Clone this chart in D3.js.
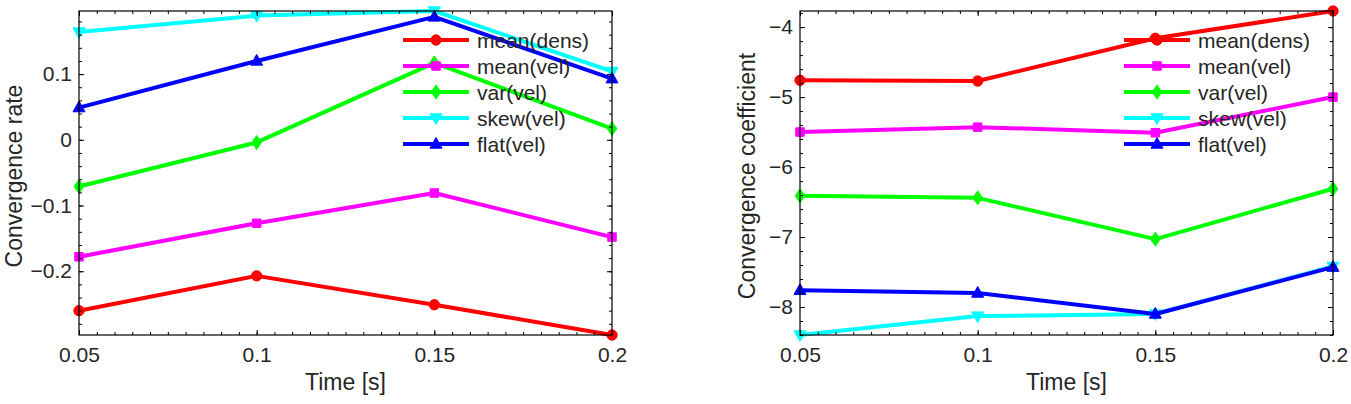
<!DOCTYPE html>
<html>
<head>
<meta charset="utf-8">
<script src="https://cdn.jsdelivr.net/npm/d3@7"></script>
<style>
	body { margin: 0; background: #fff; }
	svg { display: block; }
</style>
</head>
<body>
<script>
var times = [0.05, 0.1, 0.15, 0.2];
var seriesNames = ["mean(dens)", "mean(vel)", "var(vel)", "skew(vel)", "flat(vel)"];
var seriesColors = ["#ff0000", "#ff00ff", "#00ff00", "#00ffff", "#0000ff"];
var seriesMarkers = ["circle", "square", "diamond", "triangleDown", "triangleUp"];

// left panel: convergence rate
var rateDens = [-0.260, -0.207, -0.251, -0.297];
var rateVel = [-0.178, -0.127, -0.081, -0.148];
var rateVar = [-0.071, -0.004, 0.117, 0.017];
var rateSkew = [0.164, 0.189, 0.196, 0.104];
var rateFlat = [0.049, 0.120, 0.187, 0.093];

// right panel: convergence coefficient
var coefDens = [-4.76, -4.77, -4.16, -3.77];
var coefVel = [-5.50, -5.43, -5.51, -5.00];
var coefVar = [-6.41, -6.44, -7.03, -6.31];
var coefSkew = [-8.40, -8.13, -8.10, -7.42];
var coefFlat = [-7.76, -7.80, -8.10, -7.43];

var xTicks = [0.05, 0.1, 0.15, 0.2];
var xTickLabels = ["0.05", "0.1", "0.15", "0.2"];
var rateTicks = [-0.2, -0.1, 0, 0.1];
var rateTickLabels = ["\u22120.2", "\u22120.1", "0", "0.1"];
var coefTicks = [-8, -7, -6, -5, -4];
var coefTickLabels = ["\u22128", "\u22127", "\u22126", "\u22125", "\u22124"];

var FONT = "'Liberation Sans', Arial, Helvetica, sans-serif";
var TEXT_COLOR = "#262626";

function Panel(svg, left, yLabel, series, yTicks, yTickLabels, yMinorStep) {
	this.svg = svg;
	this.left = left;
	this.top = 11;
	this.width = 533;
	this.height = 324;
	this.yLabel = yLabel;
	this.yLabelX = -60;
	this.series = series;
	this.yTicks = yTicks;
	this.yTickLabels = yTickLabels;
	this.yMinorStep = yMinorStep;
}

Panel.prototype.init = function() {
	var all = d3.merge(this.series);
	this.x = d3.scaleLinear().domain(d3.extent(times)).range([0, this.width]);
	this.y = d3.scaleLinear().domain(d3.extent(all)).range([this.height, 0]);

	this.g = this.svg.append("g")
		.attr("transform", "translate(" + this.left + "," + this.top + ")");

	this.addLines();
	this.addAxes();
	this.addLabels();
	this.addLegend();
};

Panel.prototype.marker = function(type) {
	if (type == "circle") return d3.symbol().type(d3.symbolCircle).size(84)();
	if (type == "square") return d3.symbol().type(d3.symbolSquare).size(72)();
	if (type == "diamond") return "M0,-7L4.8,0L0,7L-4.8,0Z";
	if (type == "triangleUp") return "M0,-6.5L6,4.2L-6,4.2Z";
	return "M0,6.5L6,-4.2L-6,-4.2Z";
};

Panel.prototype.addLines = function() {
	var x = this.x, y = this.y, self = this;
	var line = d3.line()
		.x(function(d, i) { return x(times[i]); })
		.y(function(d) { return y(d); });

	this.series.forEach(function(values, k) {
		self.g.append("path")
			.datum(values)
			.attr("d", line)
				.style("fill", "none")
				.style("stroke", seriesColors[k])
				.style("stroke-width", 4)
				.style("stroke-linejoin", "round");

		self.g.selectAll(null)
			.data(values)
			.enter().append("path")
			.attr("transform", function(d, i) { return "translate(" + x(times[i]) + "," + y(d) + ")"; })
			.attr("d", self.marker(seriesMarkers[k]))
				.style("fill", seriesColors[k])
				.style("stroke", seriesColors[k])
				.style("stroke-width", 1);
	});
};

Panel.prototype.addAxes = function() {
	var g = this.g, w = this.width, h = this.height;
	var xd = this.x.domain(), yd = this.y.domain();
	var xMinor = d3.range(0, 31).map(function(i) { return xd[0] + i * 0.005; });
	var yStart = Math.ceil(yd[0] / this.yMinorStep) * this.yMinorStep;
	var yMinor = d3.range(yStart, yd[1] + 1e-9, this.yMinorStep);

	var styleAxis = function(sel) {
		sel.select(".domain").remove();
		sel.selectAll("line").style("stroke", "#000").style("stroke-width", 1);
		sel.selectAll("text")
			.style("font-family", FONT)
			.style("font-size", "21px")
			.style("fill", TEXT_COLOR);
	};

	var labels = this.yTickLabels;
	var yTicks = this.yTicks;

	g.append("g").attr("transform", "translate(0," + h + ")")
		.call(d3.axisBottom(this.x).tickValues(xMinor).tickSize(-3).tickFormat(""))
		.call(styleAxis);
	g.append("g").attr("transform", "translate(0," + h + ")")
		.call(d3.axisBottom(this.x).tickValues(xTicks).tickSize(-5).tickPadding(12)
			.tickFormat(function(d, i) { return xTickLabels[i]; }))
		.call(styleAxis);
	g.append("g")
		.call(d3.axisTop(this.x).tickValues(xMinor).tickSize(-3).tickFormat(""))
		.call(styleAxis);
	g.append("g")
		.call(d3.axisTop(this.x).tickValues(xTicks).tickSize(-5).tickFormat(""))
		.call(styleAxis);

	g.append("g")
		.call(d3.axisLeft(this.y).tickValues(yMinor).tickSize(-3).tickFormat(""))
		.call(styleAxis);
	g.append("g")
		.call(d3.axisLeft(this.y).tickValues(yTicks).tickSize(-5).tickPadding(7)
			.tickFormat(function(d, i) { return labels[i]; }))
		.call(styleAxis);
	g.append("g").attr("transform", "translate(" + w + ",0)")
		.call(d3.axisRight(this.y).tickValues(yMinor).tickSize(-3).tickFormat(""))
		.call(styleAxis);
	g.append("g").attr("transform", "translate(" + w + ",0)")
		.call(d3.axisRight(this.y).tickValues(yTicks).tickSize(-5).tickFormat(""))
		.call(styleAxis);

	g.append("rect")
		.attr("width", w)
		.attr("height", h)
			.style("fill", "none")
			.style("stroke", "#000")
			.style("stroke-width", 1.2);
};

Panel.prototype.addLabels = function() {
	this.g.append("text")
		.attr("transform", "translate(" + (this.width / 2) + "," + (this.height + 55) + ")")
			.style("font-family", FONT)
			.style("font-size", "23px")
			.style("fill", TEXT_COLOR)
			.style("text-anchor", "middle")
		.text("Time [s]");

	this.g.append("text")
		.attr("transform", "translate(" + this.yLabelX + "," + (this.height / 2 + 3) + ") rotate(-90)")
			.style("font-family", FONT)
			.style("font-size", "23px")
			.style("fill", TEXT_COLOR)
			.style("text-anchor", "middle")
		.text(this.yLabel);
};

Panel.prototype.addLegend = function() {
	var self = this;
	var x0 = this.width - 209, x1 = this.width - 143, xm = this.width - 176, xt = this.width - 135;
	seriesNames.forEach(function(name, k) {
		var ry = 29 + k * 26;
		var row = self.g.append("g").attr("transform", "translate(0," + ry + ")");
		row.append("path")
			.attr("d", d3.line()([[x0, 0], [x1, 0]]))
				.style("stroke", seriesColors[k])
				.style("stroke-width", 4);
		row.append("path")
			.attr("transform", "translate(" + xm + ",0)")
			.attr("d", self.marker(seriesMarkers[k]))
				.style("fill", seriesColors[k])
				.style("stroke", seriesColors[k]);
		row.append("text")
			.attr("x", xt)
			.attr("dy", "0.4em")
				.style("font-family", FONT)
				.style("font-size", "21px")
				.style("fill", TEXT_COLOR)
			.text(name);
	});
};

var svg = d3.select("body").append("svg")
	.attr("width", 1351)
	.attr("height", 404);

var leftPanel = new Panel(svg, 79, "Convergence rate",
	[rateDens, rateVel, rateVar, rateSkew, rateFlat], rateTicks, rateTickLabels, 0.02);
leftPanel.yLabelX = -57;
leftPanel.init();

var rightPanel = new Panel(svg, 800, "Convergence coefficient",
	[coefDens, coefVel, coefVar, coefSkew, coefFlat], coefTicks, coefTickLabels, 0.2);
rightPanel.yLabelX = -45;
rightPanel.init();
</script>
</body>
</html>
